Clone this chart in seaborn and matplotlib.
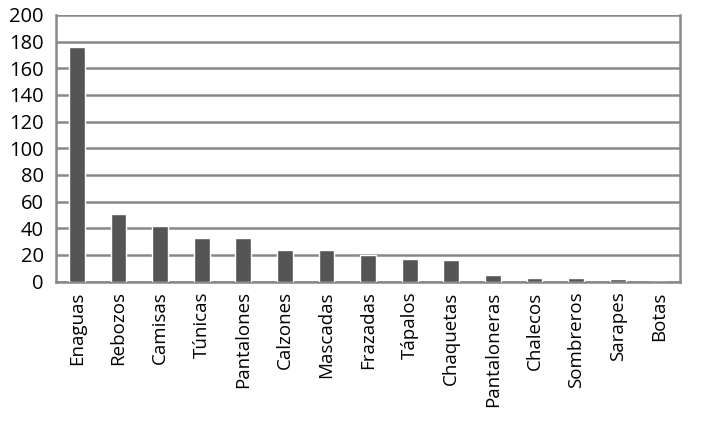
import numpy as np
import pandas as pd
import matplotlib
matplotlib.use("Agg")
import matplotlib.pyplot as plt
import seaborn as sns

# values
prendas = ["Enaguas", "Rebozos", "Camisas", "Túnicas", "Pantalones", "Calzones",
           "Mascadas", "Frazadas", "Tápalos", "Chaquetas", "Pantaloneras",
           "Chalecos", "Sombreros", "Sarapes", "Botas"]
cantidad = [176, 51, 42, 33, 33, 24, 24, 20, 17, 16, 5, 3, 3, 2, 0]

df = pd.DataFrame({"prenda": prendas, "cantidad": cantidad})

sns.set_style("white")
plt.rcParams["font.family"] = ["Open Sans", "DejaVu Sans"]

fig = plt.figure(figsize=(7.10, 4.24), dpi=100)
ax = fig.add_axes([0.079, 0.336, 0.879, 0.629])

sns.barplot(data=df, x="prenda", y="cantidad", color="#555555", width=0.38,
            saturation=1, ax=ax, zorder=3)

ax.set_ylim(0, 200)
ax.set_yticks(np.arange(0, 201, 20))
ax.yaxis.grid(True, color="#888888", linewidth=1.8, zorder=0)
ax.set_axisbelow(True)
ax.set_xlim(-0.5, len(prendas) - 0.5)

ax.set_xlabel("")
ax.set_ylabel("")
ax.tick_params(axis="y", length=5, width=1.2, color="#888888", labelsize=14.5,
               labelcolor="black", pad=4)
ax.tick_params(axis="x", which="major", length=0, labelsize=13.5, labelrotation=90,
               labelcolor="black", pad=7)
ax.set_xticks(np.arange(-0.5, len(prendas), 1), minor=True)
ax.tick_params(axis="x", which="minor", length=6, width=1.2, color="#888888")

for side in ["left", "right", "bottom"]:
    ax.spines[side].set_color("#888888")
    ax.spines[side].set_linewidth(1.8)
ax.spines["top"].set_visible(False)

fig.savefig("out.png", dpi=100)
